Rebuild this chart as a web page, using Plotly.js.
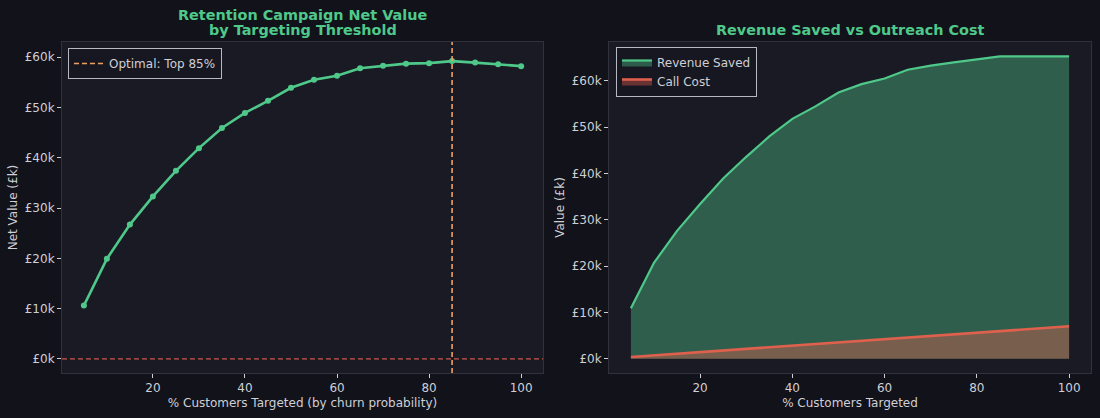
<!DOCTYPE html>
<html>
<head>
<meta charset="utf-8">
<script src="https://cdn.plot.ly/plotly-3.0.1.min.js"></script>
<style>
  html, body { margin: 0; padding: 0; background: #12121a; }
  #chart { width: 1100px; height: 418px; }
</style>
</head>
<body>
<div id="chart"></div>
<script>
// % of customers targeted, ranked by churn probability
const pctTargeted = [5, 10, 15, 20, 25, 30, 35, 40, 45, 50, 55, 60, 65, 70, 75, 80, 85, 90, 95, 100];

// Net campaign value (£k)
const netValue = [10.6, 19.9, 26.7, 32.3, 37.4, 41.9, 45.9, 48.9, 51.3, 53.9,
                  55.5, 56.3, 57.8, 58.3, 58.7, 58.8, 59.2, 58.9, 58.6, 58.2];

// Revenue saved by the outreach (£k)
const revenueSaved = [10.9, 20.7, 27.6, 33.4, 38.9, 43.6, 48.0, 51.8, 54.5, 57.5,
                      59.3, 60.5, 62.4, 63.3, 64.0, 64.6, 65.3, 65.3, 65.3, 65.3];

// Outreach call cost (£k)
const callCost = [0.35, 0.7, 1.05, 1.4, 1.75, 2.1, 2.45, 2.8, 3.15, 3.5,
                  3.85, 4.2, 4.55, 4.9, 5.25, 5.6, 5.95, 6.3, 6.65, 7.0];

// Axis ticks
const xTicks = [20, 40, 60, 80, 100];
const yTicks = [0, 10, 20, 30, 40, 50, 60];
const yTickLabels = ['£0k', '£10k', '£20k', '£30k', '£40k', '£50k', '£60k'];

const optimalPct = 85;
const optimalLabel = 'Optimal: Top 85%';

const leftRange = [-2.8, 63.0];
const rightRange = [-3.1, 68.4];
const xRange = [0.25, 104.75];

const GREEN = '#4fc98a';
const ORANGE = '#f0a060';
const RED = '#e0604e';
const TEXT = '#cfcfd6';
const SPINE = '#30313d';
const FONT = 'DejaVu Sans, sans-serif';

const traces = [
  {
    x: pctTargeted, y: netValue, type: 'scatter', mode: 'lines+markers',
    line: { color: GREEN, width: 2.6 }, marker: { color: GREEN, size: 6 },
    xaxis: 'x', yaxis: 'y', showlegend: false, hoverinfo: 'skip'
  },
  {
    x: [optimalPct, optimalPct], y: leftRange, type: 'scatter', mode: 'lines',
    name: optimalLabel, line: { color: ORANGE, width: 1.6, dash: '5px,3px' },
    xaxis: 'x', yaxis: 'y', legend: 'legend', hoverinfo: 'skip'
  },
  {
    x: pctTargeted, y: revenueSaved, type: 'scatter', mode: 'lines',
    name: 'Revenue Saved', fill: 'tozeroy', fillcolor: 'rgba(80,200,138,0.40)',
    line: { color: GREEN, width: 2.2 },
    xaxis: 'x2', yaxis: 'y2', legend: 'legend2', hoverinfo: 'skip'
  },
  {
    x: pctTargeted, y: callCost, type: 'scatter', mode: 'lines',
    name: 'Call Cost', fill: 'tozeroy', fillcolor: 'rgba(231,96,80,0.40)',
    line: { color: RED, width: 2.6 },
    xaxis: 'x2', yaxis: 'y2', legend: 'legend2', hoverinfo: 'skip'
  }
];

function xAxis(domain, anchor, title) {
  return {
    domain: domain, anchor: anchor, range: xRange,
    tickmode: 'array', tickvals: xTicks, ticks: 'outside', ticklen: 4, tickwidth: 1,
    tickcolor: TEXT, tickfont: { size: 12, color: TEXT, family: FONT },
    showgrid: false, zeroline: false, showline: true, mirror: true,
    linecolor: SPINE, linewidth: 1,
    title: { text: title, font: { size: 12, color: TEXT, family: FONT }, standoff: 4 }
  };
}

function yAxis(domain, anchor, range, title) {
  return {
    domain: domain, anchor: anchor, range: range,
    tickmode: 'array', tickvals: yTicks, ticktext: yTickLabels,
    ticks: 'outside', ticklen: 4, tickwidth: 1, tickcolor: TEXT,
    tickfont: { size: 12, color: TEXT, family: FONT },
    showgrid: false, zeroline: false, showline: true, mirror: true,
    linecolor: SPINE, linewidth: 1,
    title: { text: title, font: { size: 12, color: TEXT, family: FONT }, standoff: 4 }
  };
}

const yDom = [1 - 373 / 418, 1 - 42 / 418];

function titleLine(text, xPx, yPx) {
  return {
    text: '<b>' + text + '</b>',
    xref: 'paper', yref: 'paper', x: xPx / 1100, y: 1 - yPx / 418,
    xanchor: 'center', yanchor: 'middle', showarrow: false,
    font: { size: 14.4, color: GREEN, family: FONT }
  };
}

const layout = {
  width: 1100, height: 418,
  margin: { l: 0, r: 0, t: 0, b: 0 },
  paper_bgcolor: '#12121a', plot_bgcolor: '#191a24',
  font: { family: FONT, color: TEXT },
  xaxis: xAxis([62 / 1100, 543 / 1100], 'y', '% Customers Targeted (by churn probability)'),
  yaxis: yAxis(yDom, 'x', leftRange, 'Net Value (£k)'),
  xaxis2: xAxis([609 / 1100, 1091 / 1100], 'y2', '% Customers Targeted'),
  yaxis2: yAxis(yDom, 'x2', rightRange, 'Value (£k)'),
  legend: {
    x: 68 / 1100, y: 1 - 48 / 418, xanchor: 'left', yanchor: 'top',
    bgcolor: '#161720', bordercolor: '#b8b8c0', borderwidth: 1,
    font: { size: 12, color: TEXT, family: FONT }, tracegroupgap: 0,
    itemwidth: 30
  },
  legend2: {
    x: 616 / 1100, y: 1 - 47 / 418, xanchor: 'left', yanchor: 'top',
    bgcolor: '#161720', bordercolor: '#b8b8c0', borderwidth: 1,
    font: { size: 12, color: TEXT, family: FONT }, tracegroupgap: 0,
    itemwidth: 30
  },
  shapes: [
    {
      type: 'line', xref: 'x domain', yref: 'y', x0: 0, x1: 1, y0: 0, y1: 0,
      line: { color: '#c85a48', width: 1.1, dash: '5px,3px' }, layer: 'above'
    }
  ],
  annotations: [
    titleLine('Retention Campaign Net Value', 302.5, 15),
    titleLine('by Targeting Threshold', 302.5, 30),
    titleLine('Revenue Saved vs Outreach Cost', 850, 30)
  ]
};

Plotly.newPlot('chart', traces, layout, { displayModeBar: false, staticPlot: true });
</script>
</body>
</html>
